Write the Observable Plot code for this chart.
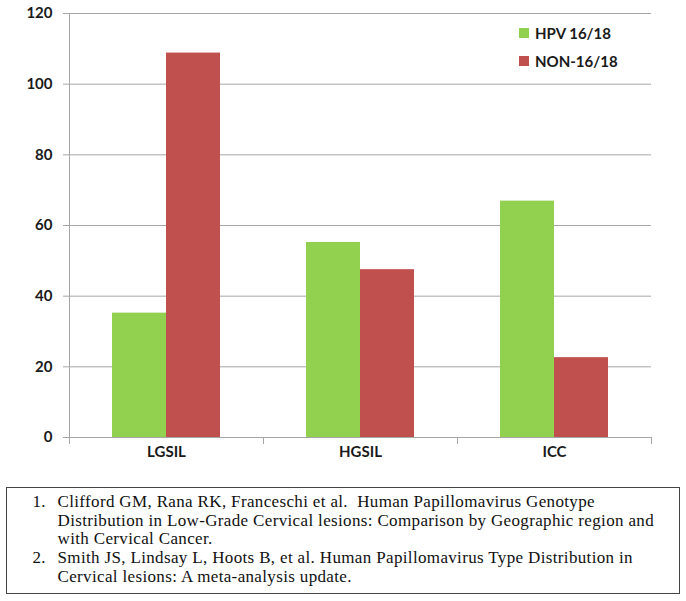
<!DOCTYPE html>
<html>
<head>
<meta charset="utf-8">
<script src="https://cdn.jsdelivr.net/npm/d3@7"></script>
<script src="https://cdn.jsdelivr.net/npm/@observablehq/plot@0.6"></script>
<style>
  html, body { margin: 0; padding: 0; background: #fff; }
  #wrap { position: relative; width: 686px; height: 601px; }
  #legend { position: absolute; left: 519px; top: 19px; font-family: Lato, sans-serif; font-weight: 700; font-size: 15px; color: #1a1a1a; }
  #legend div { display: flex; align-items: center; height: 28px; }
  #legend span.sw { width: 10px; height: 10px; display: inline-block; margin-right: 6px; }
  #notes { position: absolute; left: 6px; top: 487px; width: 674px; height: 107px; box-sizing: border-box;
           border: 1.5px solid #444; font-family: "Liberation Serif", "Times New Roman", serif; font-size: 17px;
           line-height: 18.7px; color: #111; padding-top: 5px; letter-spacing: 0.35px; }
  #notes .item { position: relative; padding-left: 50.5px; white-space: pre; }
  #notes .num { position: absolute; left: 25.5px; top: 0; }
</style>
</head>
<body>
<div id="wrap">
  <div id="chart"></div>
  <div id="legend"></div>
  <div id="notes"></div>
</div>
<script>
const categories = ["LGSIL", "HGSIL", "ICC"];
const series = ["HPV 16/18", "NON-16/18"];
const hpv1618 = [35.2, 55.2, 66.9];
const non1618 = [108.8, 47.5, 22.6];
const yTicks = [0, 20, 40, 60, 80, 100, 120];
const colors = ["#92d050", "#c0504d"];
const notes = [
  ["1.", ["Clifford GM, Rana RK, Franceschi et al.  Human Papillomavirus Genotype",
          "Distribution in Low-Grade Cervical lesions: Comparison by Geographic region and",
          "with Cervical Cancer."]],
  ["2.", ["Smith JS, Lindsay L, Hoots B, et al. Human Papillomavirus Type Distribution in",
          "Cervical lesions: A meta-analysis update."]]
];

const data = [];
categories.forEach((c, i) => {
  data.push({category: c, series: series[0], value: hpv1618[i]});
  data.push({category: c, series: series[1], value: non1618[i]});
});

const gridColor = "#a6a6a6";
const font = "Lato, sans-serif";

const chart = Plot.plot({
  width: 686,
  height: 470,
  marginLeft: 69,
  marginRight: 35,
  marginTop: 13,
  marginBottom: 33,
  style: {fontFamily: font, background: "#fff"},
  fx: {domain: categories, padding: 0, label: null},
  x: {domain: series, paddingInner: 0, paddingOuter: 0.766, axis: null},
  y: {domain: [0, 120], axis: null},
  color: {domain: series, range: colors},
  marks: [
    Plot.gridY(yTicks, {stroke: gridColor, strokeOpacity: 1, strokeWidth: 1}),
    Plot.barY(data, {fx: "category", x: "series", y: "value", fill: "series"}),
    Plot.ruleY([0], {stroke: gridColor, strokeWidth: 1}),
    Plot.frame({anchor: "left", facetAnchor: "left", stroke: gridColor, insetBottom: -6}),
    Plot.frame({anchor: "left", stroke: gridColor, insetTop: 424, insetBottom: -6}),
    Plot.frame({anchor: "right", stroke: gridColor, insetTop: 424, insetBottom: -6}),
    Plot.axisY(yTicks, {tickSize: 6, tickPadding: 11, stroke: gridColor, fontSize: 15, fontWeight: 700, fill: "#1a1a1a", label: null}),
    Plot.axisFx({anchor: "bottom", tickSize: 0, tickPadding: 9, fontSize: 15, fontWeight: 700, fill: "#1a1a1a", label: null})
  ]
});
document.getElementById("chart").appendChild(chart);

const legend = document.getElementById("legend");
series.forEach((s, i) => {
  const row = document.createElement("div");
  const sw = document.createElement("span");
  sw.className = "sw";
  sw.style.background = colors[i];
  row.appendChild(sw);
  row.appendChild(document.createTextNode(s));
  legend.appendChild(row);
});

const notesEl = document.getElementById("notes");
notes.forEach(([num, lines]) => {
  const item = document.createElement("div");
  item.className = "item";
  const n = document.createElement("span");
  n.className = "num";
  n.textContent = num;
  item.appendChild(n);
  lines.forEach((l) => {
    const line = document.createElement("div");
    line.textContent = l;
    item.appendChild(line);
  });
  notesEl.appendChild(item);
});
</script>
</body>
</html>
